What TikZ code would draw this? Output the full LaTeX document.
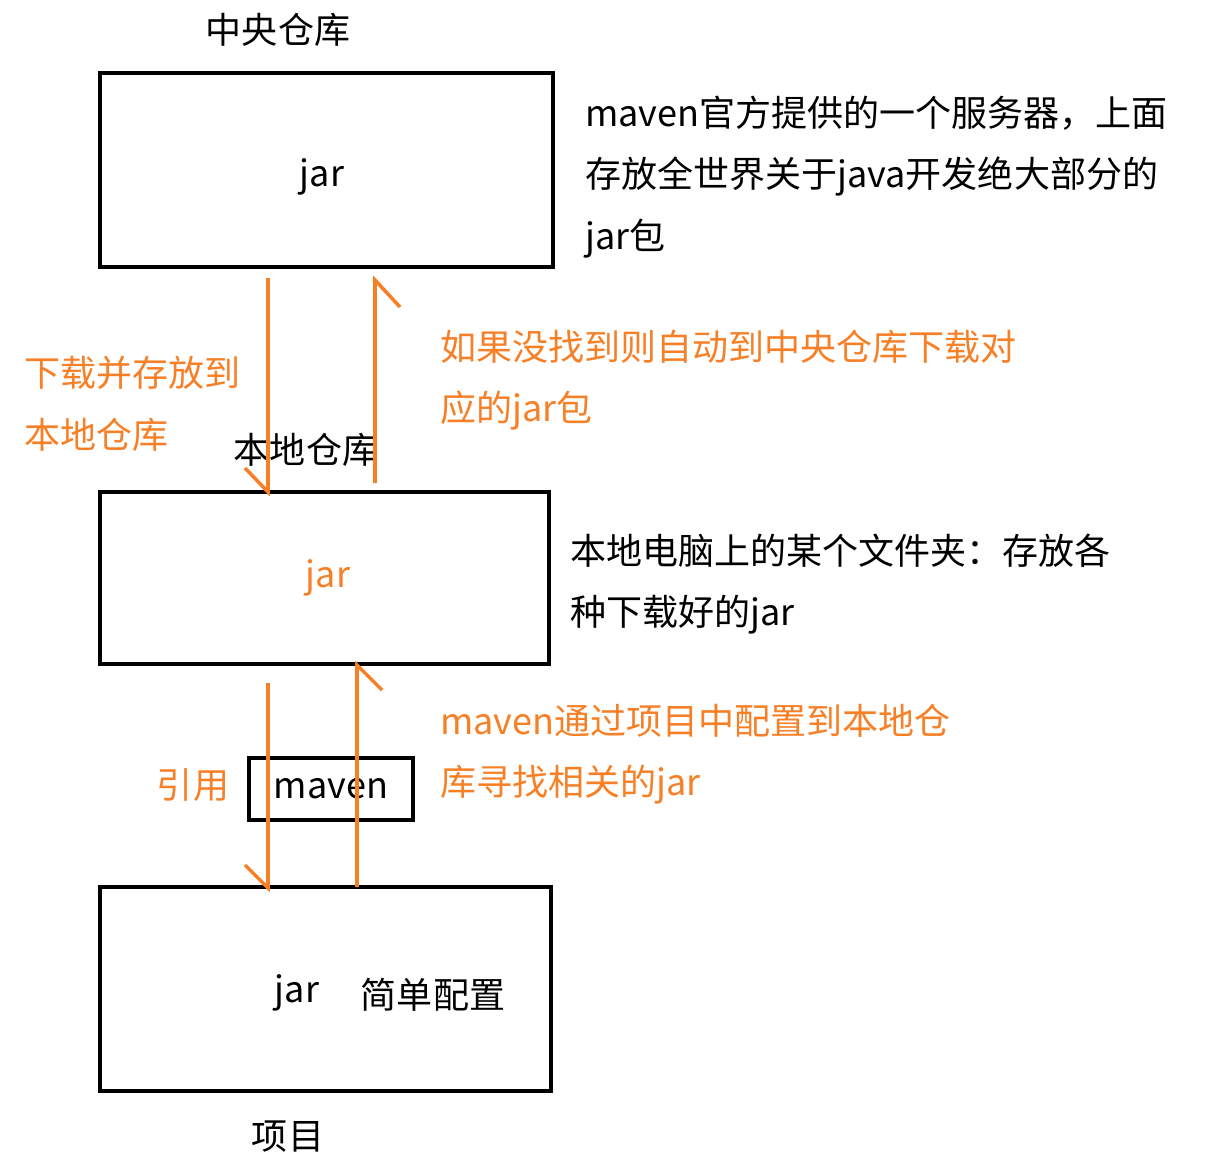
\documentclass[tikz,border=0pt]{standalone}
\usepackage{fontspec}
\setmainfont{Noto Sans CJK SC}
\usetikzlibrary{positioning}
\definecolor{mvnorange}{RGB}{247,127,38}

\begin{document}
\begin{tikzpicture}[x=0.02cm,y=-0.02cm,
            every node/.style = {font=\fontsize{20.5}{25}\selectfont, inner sep=0pt},
            repo/.style = {draw, line width=2.2pt},
            note/.style = {anchor=west, align=left, text width=13cm, font=\fontsize{20.5}{35}\selectfont},
            flow/.style = {draw=mvnorange, line width=2pt},
            orange/.style = {text=mvnorange}
            ]
            \useasboundingbox (0,0) rectangle (1230,1170);
            % repositories
            \draw[repo] (100,73) rectangle (553,267);
            \draw[repo] (100,492) rectangle (549,664);
            \draw[repo] (100,887) rectangle (551,1091);
            \node[draw, line width=2.2pt, minimum width=164*0.02cm, minimum height=62*0.02cm] (mvn) at (331,789) {maven};
            \node (central) at (278,30) {中央仓库};
            \node (cjar) at (322,177) {jar};
            \node (local) at (306,450) {本地仓库};
            \node[orange] (ljar) at (328,578) {jar};
            \node (pjar) at (297,993) {jar};
            \node (pconf) at (433,995) {简单配置};
            \node (proj) at (288,1137) {项目};
            % notes
            \node[note] (cnote) at (585,177) {maven官方提供的一个服务器，上面\\存放全世界关于java开发绝大部分的\\jar包};
            \node[note] (lnote) at (570,584) {本地电脑上的某个文件夹：存放各\\种下载好的jar};
            \node[note, orange] (dl) at (24,404) {下载并存放到\\本地仓库};
            \node[note, orange] (miss) at (440,380) {如果没找到则自动到中央仓库下载对\\应的jar包};
            \node[note, orange] (find) at (440,754) {maven通过项目中配置到本地仓\\库寻找相关的jar};
            \node[orange] (use) at (193,785) {引用};
            % arrows
            \coordinate (d1s) at (268,278); \coordinate (d1e) at (268,492); \coordinate (d1h) at (245,468);
            \coordinate (u1s) at (375,483); \coordinate (u1e) at (375,280); \coordinate (u1h) at (400,307);
            \coordinate (d2s) at (268,683); \coordinate (d2e) at (268,888); \coordinate (d2h) at (245,865);
            \coordinate (u2s) at (357,887); \coordinate (u2e) at (357,665); \coordinate (u2h) at (382,690);
            \draw[flow] (d1s) -- (d1e) -- (d1h);
            \draw[flow] (u1s) -- (u1e) -- (u1h);
            \draw[flow] (d2s) -- (d2e) -- (d2h);
            \draw[flow] (u2s) -- (u2e) -- (u2h);
\end{tikzpicture}
\end{document}
